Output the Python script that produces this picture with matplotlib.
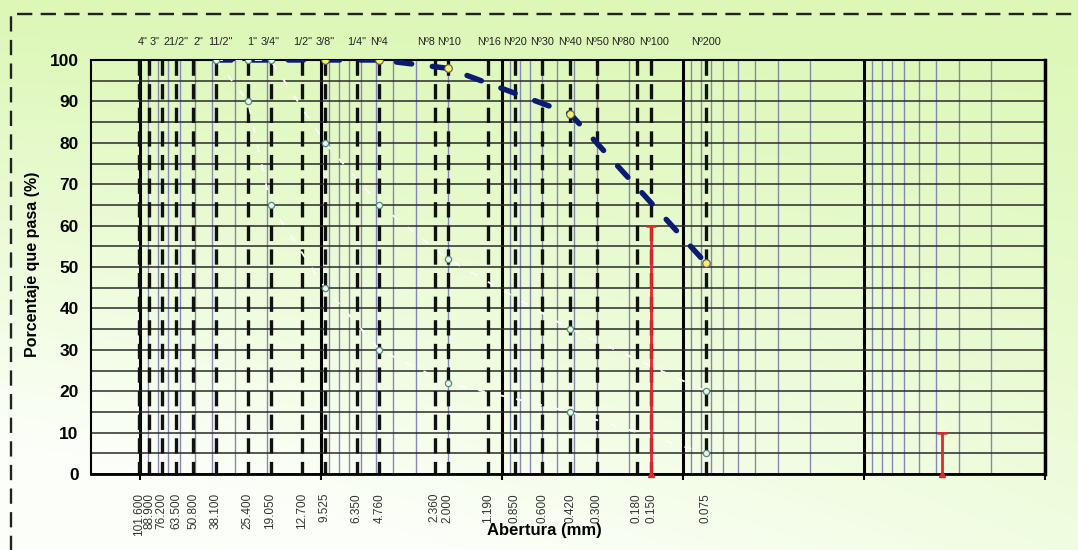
import numpy as np
import matplotlib
matplotlib.use("Agg")
import matplotlib.pyplot as plt
from matplotlib.ticker import LogLocator, NullFormatter, MultipleLocator
from matplotlib.lines import Line2D

plt.rcParams["font.family"] = ["Liberation Sans", "DejaVu Sans"]
plt.rcParams["lines.scale_dashes"] = False

# Sieve series: opening (mm), sieve designation, printed opening
sieve_mm = [101.6, 88.9, 76.2, 63.5, 50.8, 38.1, 25.4, 19.05, 12.7, 9.525, 6.35,
            4.76, 2.36, 2.0, 1.19, 0.85, 0.6, 0.42, 0.3, 0.18, 0.15, 0.075]
sieve_names = ['4"', '', '3"', '21/2"', '2"', '11/2"', '1"', '3/4"', '1/2"', '3/8"', '1/4"',
               'Nº4', 'Nº8', 'Nº10', 'Nº16', 'Nº20', 'Nº30', 'Nº40', 'Nº50', 'Nº80', 'Nº100', 'Nº200']
opening_labels = ['101.600', '88.900', '76.200', '63.500', '50.800', '38.100', '25.400',
                  '19.050', '12.700', '9.525', '6.350', '4.760', '2.360', '2.000', '1.190',
                  '0.850', '0.600', '0.420', '0.300', '0.180', '0.150', '0.075']

# Grading curve of the sample
sample_mm = [38.1, 25.4, 19.05, 9.525, 4.76, 2.0, 0.42, 0.075]
sample_pct = [100, 100, 100, 100, 100, 98, 87, 51]

# Specification band
upper_mm = [38.1, 25.4, 19.05, 9.525, 4.76, 2.0, 0.42, 0.075]
upper_pct = [100, 100, 100, 80, 65, 52, 35, 20]
lower_mm = [38.1, 25.4, 19.05, 9.525, 4.76, 2.0, 0.42, 0.075]
lower_pct = [100, 90, 65, 45, 30, 22, 15, 5]

# Characteristic diameters D60 and D10
d_mm = [0.15, 0.0037]
d_pct = [60, 10]

W, H = 1078, 550
fig = plt.figure(figsize=(W / 100, H / 100), dpi=100)

# soft green-to-white background
bg = fig.add_axes([0, 0, 1, 1], zorder=-10)
v = np.linspace(0, 1, 110)[:, None]
u = np.linspace(0, 1, 216)[None, :]
w = np.clip(1.2 * v ** 1.1 * (1 - 0.5 * u) + 0.06, 0, 1)
green = np.array([218, 247, 178]) / 255
white = np.array([252, 255, 249]) / 255
img = green[None, None, :] * (1 - w[..., None]) + white[None, None, :] * w[..., None]
bg.imshow(img, aspect="auto", extent=[0, 1, 0, 1], interpolation="bilinear")
bg.set_axis_off()

ax = fig.add_axes([91 / W, (H - 474) / H, 954 / W, 414 / H])
ax.set_facecolor("none")
ax.set_xscale("log")
ax.set_xlim(187, 0.001)
ax.set_ylim(0, 100)

ax.xaxis.set_major_locator(LogLocator(base=10, numticks=20))
ax.xaxis.set_minor_locator(LogLocator(base=10, subs=np.arange(2, 10), numticks=100))
ax.xaxis.set_major_formatter(NullFormatter())
ax.xaxis.set_minor_formatter(NullFormatter())
ax.yaxis.set_major_locator(MultipleLocator(10))
ax.yaxis.set_minor_locator(MultipleLocator(5))

ax.set_axisbelow(True)
ax.grid(which="minor", axis="x", color="#8489b3", lw=1.0)
ax.grid(which="major", axis="x", color="black", lw=2.2)
ax.grid(which="both", axis="y", color="#2a2a2a", lw=1.1)

ax.tick_params(axis="x", which="major", direction="out", length=4, width=1.5, color="black")
ax.tick_params(axis="x", which="minor", length=0)
ax.tick_params(axis="y", which="both", length=0, pad=9)
for lab in ax.get_yticklabels():
    lab.set_family(["Liberation Sans Narrow", "Liberation Sans", "DejaVu Sans"])
    lab.set_fontweight("bold")
    lab.set_fontsize(12.5)

for side, lw in (("left", 1.5), ("bottom", 2.0), ("top", 1.5), ("right", 2.5)):
    ax.spines[side].set_color("black")
    ax.spines[side].set_linewidth(lw)

# sieve lines
ax.vlines(sieve_mm, 100, 0, colors="#111111", linewidth=2.4,
          linestyles=[(0, (11, 6))], zorder=2)

# sample curve
ax.plot(sample_mm, sample_pct, color="#0b1a72", lw=3.9, dashes=(11, 15),
        dash_capstyle="round", solid_capstyle="round", zorder=4)
ax.plot(sample_mm[3:], sample_pct[3:], ls="none", marker="o", ms=5.5,
        mfc="#f4ef72", mec="#555555", mew=0.8, zorder=6)

# specification limits
for xs, ys in ((upper_mm, upper_pct), (lower_mm, lower_pct)):
    ax.plot(xs, ys, color="white", lw=1.3, dashes=(5, 9), marker="o", ms=4.5,
            mfc="#eef7ea", mec="#4f8f80", mew=0.9, zorder=5)

# D60 / D10 markers
red = "#e5262a"
ax.vlines(d_mm, 0, d_pct, colors=red, lw=2.0, zorder=7)
ax.plot(d_mm, d_pct, ls="none", marker="_", ms=7, mew=1.8, color=red, zorder=7)
ax.plot(d_mm, np.zeros(len(d_mm)), ls="none", marker="^", ms=4, color=red, zorder=7,
        clip_on=False)

# sieve designations above the plot
nudge = {'4"': 4, '3"': -7, '21/2"': 0, '2"': 5, '11/2"': 4, '1"': 4, 'Nº8': -9,
         'Nº10': 1, 'Nº16': 1, 'Nº80': -14, 'Nº100': 3}
for x, name in zip(sieve_mm, sieve_names):
    if not name:
        continue
    ax.annotate(name, xy=(x, 1), xycoords=("data", "axes fraction"),
                xytext=(nudge.get(name, 0), 18), textcoords="offset pixels",
                ha="center", va="center", fontsize=7.8, color="#222222")

# openings below the plot
for x, lab in zip(sieve_mm, opening_labels):
    ax.annotate(lab, xy=(x, 0), xycoords=("data", "axes fraction"),
                xytext=(0, -19), textcoords="offset pixels", rotation=90,
                ha="center", va="top", fontsize=8.5, color="#333333")

fig.text(33 / W, 1 - 264 / H, "Porcentaje que pasa (%)", rotation=90, ha="center",
         va="center", fontsize=11.5, fontweight="bold")
fig.text(544 / W, 1 - 531 / H, "Abertura (mm)", ha="center", va="center",
         fontsize=12, fontweight="bold")

# dashed frame around the chart
fig.add_artist(Line2D([11 / W, 11 / W, 1.02], [-0.02, 1 - 14 / H, 1 - 14 / H],
                      transform=fig.transFigure, color="#222222", lw=1.7,
                      dashes=(11, 6)))

fig.savefig("out.png", dpi=100)
